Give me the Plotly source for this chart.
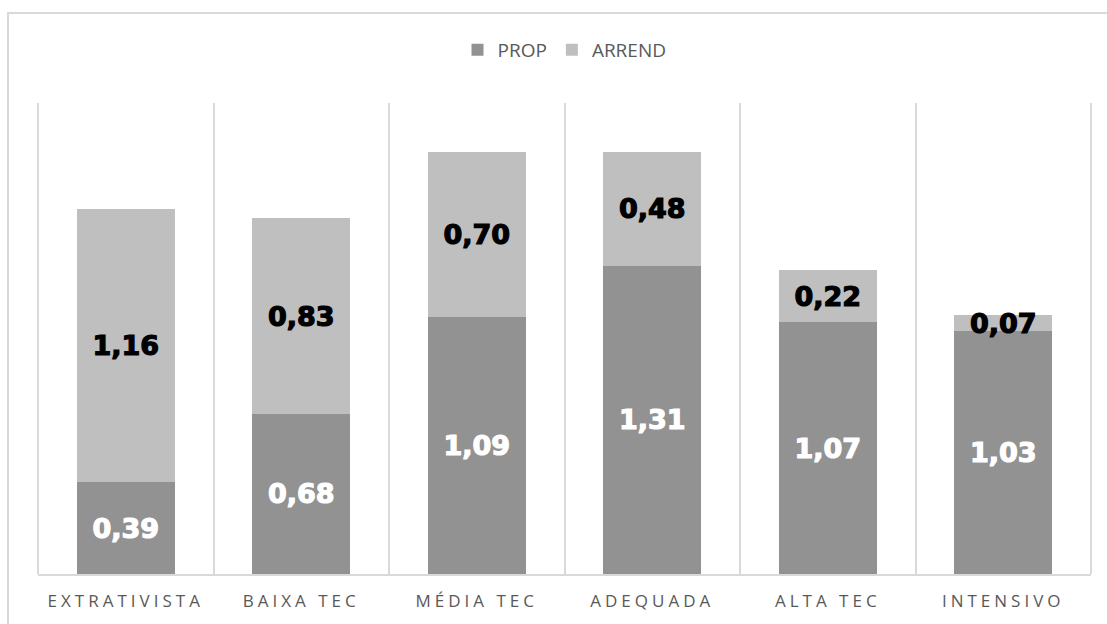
import plotly.graph_objects as go

categories = ["EXTRATIVISTA", "BAIXA TEC", "MÉDIA TEC", "ADEQUADA", "ALTA TEC", "INTENSIVO"]
prop = [0.39, 0.68, 1.09, 1.31, 1.07, 1.03]
arrend = [1.16, 0.83, 0.70, 0.48, 0.22, 0.07]

def fmt(v):
    return f"{v:.2f}".replace(".", ",")

W, H = 1107, 624
ml, mr, mt, mb = 38, 16, 103, 50
pw, ph = W - ml - mr, H - mt - mb

label_font = dict(family="DejaVu Sans", size=27)

fig = go.Figure()
fig.add_trace(go.Bar(
    name="PROP", x=categories, y=prop, marker=dict(color="#929292", line=dict(width=0)),
    text=[fmt(v) for v in prop], textposition="inside", insidetextanchor="middle",
    textfont=dict(color="white", **label_font), constraintext="none",
    texttemplate="<b>%{text}</b>", hoverinfo="skip",
))
fig.add_trace(go.Bar(
    name="ARREND", x=categories, y=arrend, marker=dict(color="#bfbfbf", line=dict(width=0)),
    text=[fmt(v) for v in arrend], textposition="inside", insidetextanchor="middle",
    textfont=dict(color="black", **label_font), constraintext="none",
    texttemplate="<b>%{text}</b>", hoverinfo="skip",
))

fig.update_layout(
    width=W, height=H, barmode="stack", bargap=0.44,
    margin=dict(l=ml, r=mr, t=mt, b=mb),
    paper_bgcolor="white", plot_bgcolor="white",
    legend=dict(orientation="h", x=0.5, xanchor="center", y=(H - mb - 50) / ph, yanchor="middle",
                font=dict(family="Open Sans", size=19, color="#595959"),
                itemwidth=30, traceorder="normal"),
    xaxis=dict(tickson="boundaries", showgrid=True, gridcolor="#d9d9d9", gridwidth=2,
               showline=True, linecolor="#d9d9d9", linewidth=2, ticks="",
               tickfont=dict(family="Open Sans", size=17, color="#595959"),
               ticklabelstandoff=11,
               range=[-0.5, 5.5]),
    yaxis=dict(range=[0, 2.0], showgrid=False, showticklabels=False, zeroline=False,
               fixedrange=True),
    shapes=[
        dict(type="rect", xref="paper", yref="paper",
             x0=(8 - ml) / pw, x1=(W + 20 - ml) / pw,
             y0=(H - mb - (H + 20)) / ph, y1=(H - mb - 13) / ph,
             line=dict(color="#d9d9d9", width=2), fillcolor="rgba(0,0,0,0)", layer="below"),
        dict(type="line", xref="paper", yref="paper", x0=0, x1=0, y0=0, y1=1,
             line=dict(color="#d9d9d9", width=2), layer="below"),
        dict(type="line", xref="paper", yref="paper", x0=1, x1=1, y0=0, y1=1,
             line=dict(color="#d9d9d9", width=2), layer="below"),
    ],
)

post = """
var s=document.createElement('style');
s.innerHTML='.xtick text{letter-spacing:4px}';
document.head.appendChild(s);
document.querySelectorAll('text.bartext').forEach(function(t){
  var f=t.style.fill; t.style.stroke=f; t.style.strokeWidth='1.2px';
});
"""
fig.write_html("out.html", post_script=post)
